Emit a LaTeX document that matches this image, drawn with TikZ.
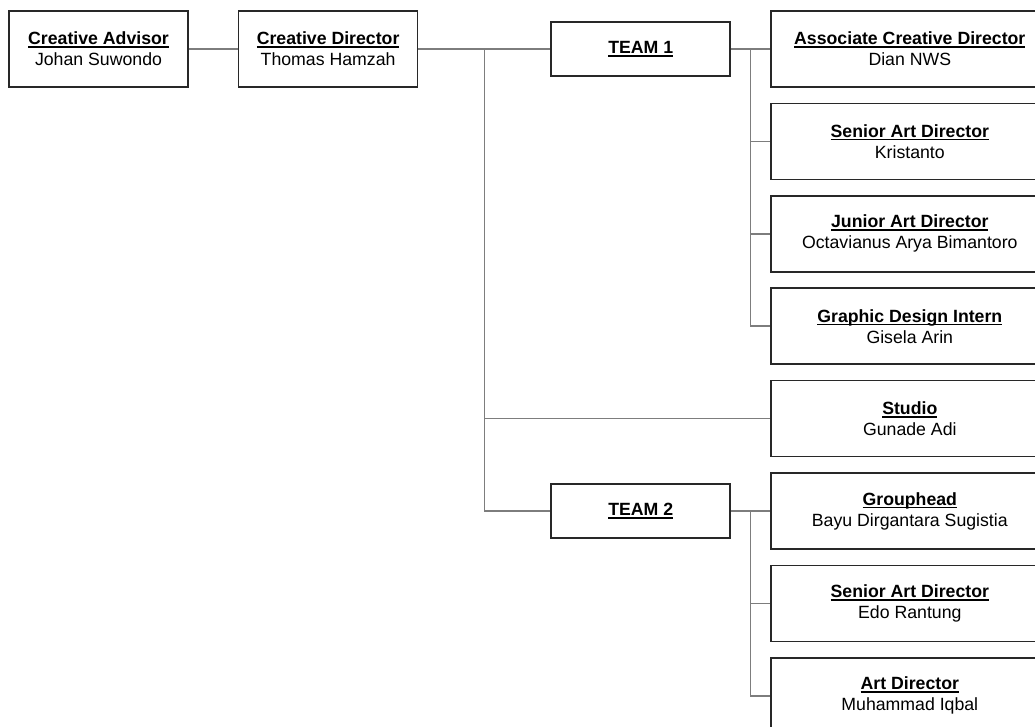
\documentclass[tikz,border=0pt]{standalone}
\usepackage{fontspec}
\setmainfont{Liberation Sans}
\usepackage{xcolor}
\usepackage{tikz}
\usetikzlibrary{positioning, calc}
\definecolor{boxline}{RGB}{40,40,40}
\definecolor{wire}{RGB}{125,125,125}
\newcommand{\ulhead}[1]{\setbox0\hbox{\bfseries #1}\rlap{\rule[-3.2pt]{\wd0}{1.6pt}}\box0}
\tikzstyle{role} = [rectangle, minimum width=179pt, minimum height=76pt, text centered, align=center, draw=boxline, line width=1.6pt]
\tikzstyle{staff} = [role, minimum width=278pt]
\tikzstyle{team} = [role, minimum height=54pt]
\tikzstyle{link} = [draw=wire, line width=1.5pt]
\tikzstyle{every node}=[font=\fontsize{17.7}{21}\selectfont]

\begin{document}
\begin{tikzpicture}[node distance=92.4pt, x=1pt, y=-1pt]
		\useasboundingbox (0,0) rectangle (1035,726);
		\clip (0,0) rectangle (1035,726);
		\node (adv) [role] at (98.5,49) {\ulhead{Creative Advisor}\\Johan Suwondo};
		\node (dir) [role, right=49pt of adv] {\ulhead{Creative Director}\\Thomas Hamzah};
		\node (team1) [team, right=132pt of dir] {\ulhead{TEAM 1}};
		\node (acd) [staff, right=39pt of team1] {\ulhead{Associate Creative Director}\\Dian NWS};
		\node (sad1) [staff, below of=acd] {\ulhead{Senior Art Director}\\Kristanto};
		\node (jad) [staff, below of=sad1] {\ulhead{Junior Art Director}\\Octavianus Arya Bimantoro};
		\node (gdi) [staff, below of=jad] {\ulhead{Graphic Design Intern}\\Gisela Arin};
		\node (std) [staff, below of=gdi] {\ulhead{Studio}\\Gunade Adi};
		\node (gh) [staff, below of=std] {\ulhead{Grouphead}\\Bayu Dirgantara Sugistia};
		\node (sad2) [staff, below of=gh] {\ulhead{Senior Art Director}\\Edo Rantung};
		\node (ad) [staff, below of=sad2] {\ulhead{Art Director}\\Muhammad Iqbal};
		\node (team2) [team] at (team1 |- gh) {\ulhead{TEAM 2}};
		\coordinate (j1) at ($(dir.east)!0.5!(team1.west)$);
		\coordinate (j2) at ($(team1.east)!0.5!(acd.west)$);
		\coordinate (j3) at ($(team2.east)!0.5!(gh.west)$);
		\draw [link](adv) -- (dir);
		\draw [link](dir) -- (team1);
		\draw [link](j1) |- (std.west);
		\draw [link](j1) |- (team2.west);
		\draw [link](team1) -- (acd);
		\draw [link](j2) |- (sad1.west);
		\draw [link](j2) |- (jad.west);
		\draw [link](j2) |- (gdi.west);
		\draw [link](team2) -- (gh);
		\draw [link](j3) |- (sad2.west);
		\draw [link](j3) |- (ad.west);
	\end{tikzpicture}
\end{document}
